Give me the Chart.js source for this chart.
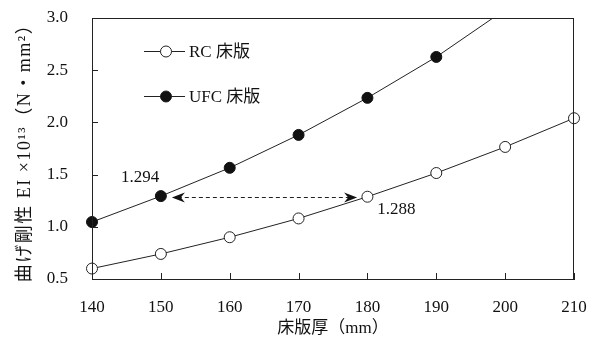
<!DOCTYPE html>
<html>
<head>
<meta charset="utf-8">
<script src="https://cdn.jsdelivr.net/npm/chart.js@4.4.1/dist/chart.umd.min.js"></script>
<style>
  html, body { margin: 0; padding: 0; background: #fff; }
  #wrap { width: 598px; height: 343px; }
</style>
</head>
<body>
<div id="wrap"><canvas id="eiChart"></canvas></div>
<script>
// 床版厚 (mm)
const thickness = [140, 150, 160, 170, 180, 190, 200, 210];
// 曲げ剛性 EI ×10^13
const rcValues = [0.60, 0.74, 0.90, 1.08, 1.288, 1.515, 1.765, 2.04];
const ufcValues = [1.046, 1.294, 1.565, 1.88, 2.235, 2.627, 3.08, null];
const seriesNames = ['RC 床版', 'UFC 床版'];
const yTicks = [0.5, 1.0, 1.5, 2.0, 2.5, 3.0];
const xTicks = [140, 150, 160, 170, 180, 190, 200, 210];
const yTitle = '曲げ剛性 EI ×10¹³（N・mm²）';
const xTitle = '床版厚（mm）';

// 注記 (双方向矢印と数値)
const arrowY = 1.29;
const arrowFrom = 151.6;
const arrowTo = 178.5;
const notes = [
  { text: '1.294', x: 147.0, y: 1.47 },
  { text: '1.288', x: 184.2, y: 1.17 }
];

const serif = "'Liberation Serif', 'Times New Roman', 'Noto Sans CJK JP', serif";

const frameAndNotes = {
  id: 'frameAndNotes',
  afterDatasetsDraw(chart) {
    const { ctx, chartArea: a, scales: { x, y } } = chart;
    ctx.save();
    // 枠
    ctx.strokeStyle = '#222';
    ctx.lineWidth = 1;
    ctx.strokeRect(Math.round(a.left) + 0.5, Math.round(a.top) + 0.5,
      Math.round(a.right - a.left) - 1, Math.round(a.bottom - a.top));
    // 内向き目盛
    ctx.beginPath();
    xTicks.forEach(v => {
      const px = Math.round(x.getPixelForValue(v)) + 0.5;
      ctx.moveTo(px, a.bottom);
      ctx.lineTo(px, a.bottom - 6);
    });
    yTicks.forEach(v => {
      const py = Math.round(y.getPixelForValue(v)) + 0.5;
      ctx.moveTo(a.left, py);
      ctx.lineTo(a.left + 6, py);
    });
    ctx.stroke();

    // 破線の矢印
    const x1 = x.getPixelForValue(arrowFrom);
    const x2 = x.getPixelForValue(arrowTo);
    const py = Math.round(y.getPixelForValue(arrowY)) + 0.5;
    ctx.setLineDash([4, 3]);
    ctx.beginPath();
    ctx.moveTo(x1 + 6, py);
    ctx.lineTo(x2 - 6, py);
    ctx.stroke();
    ctx.setLineDash([]);
    ctx.fillStyle = '#111';
    const head = (tx, dir) => {
      ctx.beginPath();
      ctx.moveTo(tx, py);
      ctx.lineTo(tx - dir * 13, py - 5);
      ctx.lineTo(tx - dir * 9, py);
      ctx.lineTo(tx - dir * 13, py + 5);
      ctx.closePath();
      ctx.fill();
    };
    head(x1, -1);
    head(x2, 1);

    // 数値
    ctx.font = '17px ' + serif;
    ctx.textAlign = 'center';
    ctx.textBaseline = 'middle';
    ctx.fillStyle = '#111';
    notes.forEach(n => {
      ctx.fillText(n.text, x.getPixelForValue(n.x), y.getPixelForValue(n.y));
    });

    // 凡例
    const lx = a.left + 52;
    const rows = [a.top + 33, a.top + 78];
    chart.data.datasets.forEach((ds, i) => {
      const ly = rows[i] + 0.5;
      ctx.strokeStyle = '#222';
      ctx.beginPath();
      ctx.moveTo(lx, ly);
      ctx.lineTo(lx + 41, ly);
      ctx.stroke();
      ctx.beginPath();
      ctx.arc(lx + 22, ly, 5.5, 0, Math.PI * 2);
      ctx.fillStyle = ds.pointBackgroundColor;
      ctx.fill();
      ctx.stroke();
      ctx.fillStyle = '#111';
      ctx.textAlign = 'left';
      ctx.fillText(ds.label, lx + 45, ly + 1);
    });

    // 縦軸タイトル
    ctx.translate(25, (a.top + a.bottom) / 2);
    ctx.rotate(-Math.PI / 2);
    ctx.font = '18px ' + serif;
    ctx.letterSpacing = '1.5px';
    ctx.textAlign = 'center';
    ctx.fillText(yTitle, 0, 0);
    ctx.restore();
  }
};

const ctx = document.getElementById('eiChart').getContext('2d');
new Chart(ctx, {
  type: 'line',
  data: {
    datasets: [
      {
        label: seriesNames[0],
        data: thickness.map((t, i) => ({ x: t, y: rcValues[i] })),
        borderColor: '#222',
        borderWidth: 1,
        pointRadius: 5.5,
        pointBackgroundColor: '#fff',
        pointBorderColor: '#222',
        pointBorderWidth: 1,
        clip: { left: 10, right: 10, top: 0, bottom: 10 }
      },
      {
        label: seriesNames[1],
        data: thickness.map((t, i) => ({ x: t, y: ufcValues[i] })),
        borderColor: '#222',
        borderWidth: 1,
        pointRadius: 5.5,
        pointBackgroundColor: '#111',
        pointBorderColor: '#111',
        pointBorderWidth: 1,
        clip: { left: 10, right: 10, top: 0, bottom: 10 }
      }
    ]
  },
  options: {
    responsive: true,
    maintainAspectRatio: false,
    animation: false,
    layout: { autoPadding: false, padding: { top: 18, right: 24, left: 10, bottom: 0 } },
    plugins: {
      legend: { display: false },
      tooltip: { enabled: false }
    },
    scales: {
      x: {
        type: 'linear',
        min: 140,
        max: 210,
        afterBuildTicks: s => { s.ticks = xTicks.map(v => ({ value: v })); },
        afterFit: s => { s.height = 64; s.paddingLeft = 0; s.paddingRight = 0; },
        grid: { display: false, drawTicks: false, tickLength: 0 },
        border: { color: '#222', width: 1 },
        ticks: { color: '#111', padding: 18, maxRotation: 0, font: { family: serif, size: 17 } },
        title: {
          display: true,
          text: xTitle,
          color: '#111',
          padding: { top: 0, bottom: 4 },
          font: { family: serif, size: 17 }
        }
      },
      y: {
        min: 0.5,
        max: 3.0,
        afterBuildTicks: s => { s.ticks = yTicks.map(v => ({ value: v })); },
        afterFit: s => { s.width = 82; s.paddingTop = 0; s.paddingBottom = 0; },
        grid: { display: false, drawTicks: false, tickLength: 0 },
        border: { color: '#222', width: 1 },
        ticks: {
          color: '#111',
          padding: 24,
          font: { family: serif, size: 17 },
          callback: v => v.toFixed(1)
        },
        title: { display: false }
      }
    }
  },
  plugins: [frameAndNotes]
});
</script>
</body>
</html>
